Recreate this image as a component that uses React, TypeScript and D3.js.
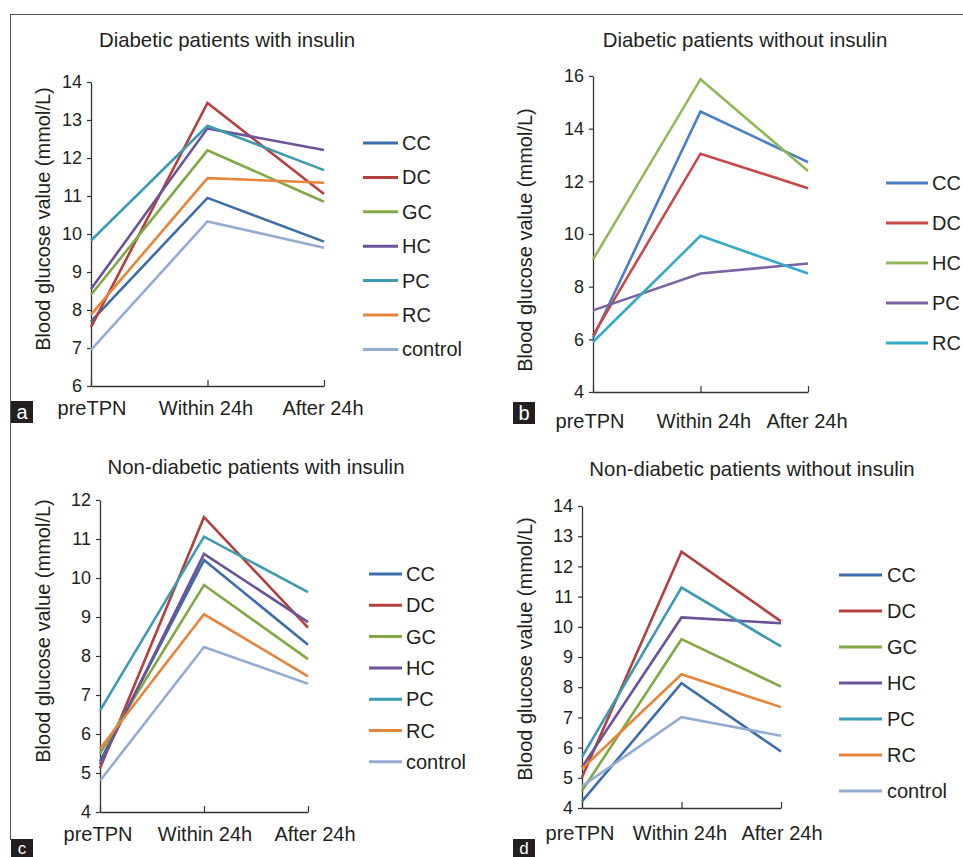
import { useEffect, useRef } from 'react';
import * as d3 from 'd3';

// categories on the x axis
const categories = ['preTPN', 'Within 24h', 'After 24h'];

// series names per panel
const seriesFull = ['CC', 'DC', 'GC', 'HC', 'PC', 'RC', 'control'];
const seriesB = ['CC', 'DC', 'HC', 'PC', 'RC'];

// colours
const colorsDark = ['#3b6ea8', '#b3403e', '#82a846', '#6b5399', '#3c9bb3', '#e8843a', '#94acd4'];
const colorsB = ['#4a7fc6', '#c84848', '#93b85a', '#7a62a3', '#35aac8'];

// values (mmol/L), one row per series, in category order
const valuesA = [
  [7.7, 10.95, 9.8],
  [7.55, 13.45, 11.05],
  [8.4, 12.2, 10.85],
  [8.55, 12.78, 12.21],
  [9.83, 12.85, 11.68],
  [7.88, 11.47, 11.35],
  [6.95, 10.33, 9.64],
];
const valuesB = [
  [6.05, 14.65, 12.73],
  [6.15, 13.05, 11.74],
  [9.03, 15.88, 12.39],
  [7.1, 8.5, 8.88],
  [5.9, 9.93, 8.5],
];
const valuesC = [
  [5.3, 10.46, 8.29],
  [5.12, 11.56, 8.73],
  [5.5, 9.82, 7.92],
  [5.22, 10.62, 8.87],
  [6.6, 11.06, 9.64],
  [5.62, 9.07, 7.48],
  [4.8, 8.23, 7.29],
];
const valuesD = [
  [4.22, 8.13, 5.87],
  [5.02, 12.49, 10.18],
  [4.57, 9.59, 8.02],
  [5.35, 10.31, 10.12],
  [5.69, 11.3, 9.35],
  [5.3, 8.43, 7.34],
  [4.72, 7.01, 6.39],
];

// y tick values
const ticksA = [6, 7, 8, 9, 10, 11, 12, 13, 14];
const ticksB = [4, 6, 8, 10, 12, 14, 16];
const ticksC = [4, 5, 6, 7, 8, 9, 10, 11, 12];
const ticksD = [4, 5, 6, 7, 8, 9, 10, 11, 12, 13, 14];

const titles = [
  'Diabetic patients with insulin',
  'Diabetic patients without insulin',
  'Non-diabetic patients with insulin',
  'Non-diabetic patients without insulin',
];
const letters = ['a', 'b', 'c', 'd'];

const TEXT = '#231f20';
const FONT = '"Liberation Sans", Arial, sans-serif';

export default function App() {
  const svgRef = useRef(null);

  useEffect(() => {
    const svg = d3.select(svgRef.current);
    svg.selectAll('*').remove();

    // frame
    svg.append('line').attr('x1', 10).attr('x2', 963).attr('y1', 14.5).attr('y2', 14.5)
      .attr('stroke', '#555').attr('stroke-width', 1);
    svg.append('line').attr('x1', 10.5).attr('x2', 10.5).attr('y1', 14).attr('y2', 840)
      .attr('stroke', '#555').attr('stroke-width', 1);

    const panels = [
      {
        series: seriesFull, colors: colorsDark, values: valuesA, ticks: ticksA, domain: [6, 14],
        x0: 91, x1: 324, yTop: 82, yBot: 386, titleX: 227, titleY: 47, labelY: 415,
        labelX: [92, 206, 323], yLab: [43, 219], leg: { x1: 363, x2: 398, tx: 402, y0: 143, dy: 34.4 },
        box: [11, 401, 22],
      },
      {
        series: seriesB, colors: colorsB, values: valuesB, ticks: ticksB, domain: [4, 16],
        x0: 593, x1: 808, yTop: 76, yBot: 392, titleX: 745, titleY: 47, labelY: 428,
        labelX: [590, 704, 807], yLab: [525, 240], leg: { x1: 886, x2: 928, tx: 932, y0: 183, dy: 40 },
        box: [513, 402, 22],
      },
      {
        series: seriesFull, colors: colorsDark, values: valuesC, ticks: ticksC, domain: [4, 12],
        x0: 100, x1: 308, yTop: 500, yBot: 812, titleX: 256, titleY: 474, labelY: 841,
        labelX: [98, 205, 315], yLab: [43, 631], leg: { x1: 369, x2: 402, tx: 406, y0: 574, dy: 31.3 },
        box: [11, 839, 18],
      },
      {
        series: seriesFull, colors: colorsDark, values: valuesD, ticks: ticksD, domain: [4, 14],
        x0: 582, x1: 781, yTop: 506, yBot: 808, titleX: 752, titleY: 476, labelY: 840,
        labelX: [580, 680, 782], yLab: [525, 649], leg: { x1: 839, x2: 882, tx: 887, y0: 575, dy: 36 },
        box: [513, 839, 18],
      },
    ];

    panels.forEach((p, pi) => {
      const g = svg.append('g');
      const x = d3.scalePoint().domain(categories).range([p.x0, p.x1]);
      const y = d3.scaleLinear().domain(p.domain).range([p.yBot, p.yTop]);

      // title
      g.append('text')
        .attr('x', p.titleX).attr('y', p.titleY)
        .attr('text-anchor', 'middle')
        .attr('font-size', 20.4).attr('fill', TEXT)
        .text(titles[pi]);

      // y axis
      const yAxis = g.append('g')
        .attr('transform', `translate(${p.x0},0)`)
        .call(d3.axisLeft(y).tickValues(p.ticks).tickSize(4).tickPadding(5).tickSizeOuter(0));
      yAxis.select('.domain').attr('stroke', '#333').attr('stroke-width', 1.3);
      yAxis.selectAll('.tick line').attr('stroke', '#333').attr('stroke-width', 1.2);
      yAxis.selectAll('.tick text')
        .attr('font-size', 18).attr('font-family', FONT).attr('fill', TEXT);

      // x axis (ticks point inward)
      const xAxis = g.append('g')
        .attr('transform', `translate(0,${p.yBot})`)
        .call(d3.axisBottom(x).tickSize(-6).tickSizeOuter(0).tickFormat(() => ''));
      xAxis.select('.domain').attr('stroke', '#333').attr('stroke-width', 1.3);
      xAxis.selectAll('.tick line').attr('stroke', '#333').attr('stroke-width', 1.2);

      categories.forEach((c, ci) => {
        g.append('text')
          .attr('x', p.labelX[ci]).attr('y', p.labelY)
          .attr('text-anchor', 'middle')
          .attr('font-size', 20).attr('fill', TEXT)
          .text(c);
      });

      // y axis label
      g.append('text')
        .attr('transform', `translate(${p.yLab[0]},${p.yLab[1]}) rotate(-90)`)
        .attr('text-anchor', 'middle')
        .attr('dominant-baseline', 'central')
        .attr('font-size', 20).attr('fill', TEXT)
        .text('Blood glucose value (mmol/L)');

      // lines
      const line = d3.line<number>()
        .x((_, i) => x(categories[i]) as number)
        .y(d => y(d));

      p.values.forEach((vals, si) => {
        g.append('path')
          .datum(vals)
          .attr('d', line)
          .attr('fill', 'none')
          .attr('stroke', p.colors[si])
          .attr('stroke-width', 2.6)
          .attr('stroke-linejoin', 'miter');
      });

      // legend
      p.series.forEach((s, si) => {
        const ly = p.leg.y0 + si * p.leg.dy;
        g.append('line')
          .attr('x1', p.leg.x1).attr('x2', p.leg.x2)
          .attr('y1', ly).attr('y2', ly)
          .attr('stroke', p.colors[si]).attr('stroke-width', 3);
        g.append('text')
          .attr('x', p.leg.tx).attr('y', ly)
          .attr('dominant-baseline', 'central')
          .attr('font-size', 20).attr('fill', TEXT)
          .text(s);
      });

      // panel letter
      const bh = p.box[2];
      g.append('rect')
        .attr('x', p.box[0]).attr('y', p.box[1])
        .attr('width', 22).attr('height', bh)
        .attr('fill', TEXT);
      g.append('text')
        .attr('x', p.box[0] + 11).attr('y', p.box[1] + bh / 2)
        .attr('text-anchor', 'middle')
        .attr('dominant-baseline', 'central')
        .attr('font-size', bh < 22 ? 17 : 20).attr('fill', '#fff')
        .text(letters[pi]);
    });
  }, []);

  return (
    <svg
      ref={svgRef}
      width={963}
      height={857}
      style={{ position: 'absolute', left: 0, top: 0, background: '#fff', fontFamily: FONT }}
    />
  );
}
